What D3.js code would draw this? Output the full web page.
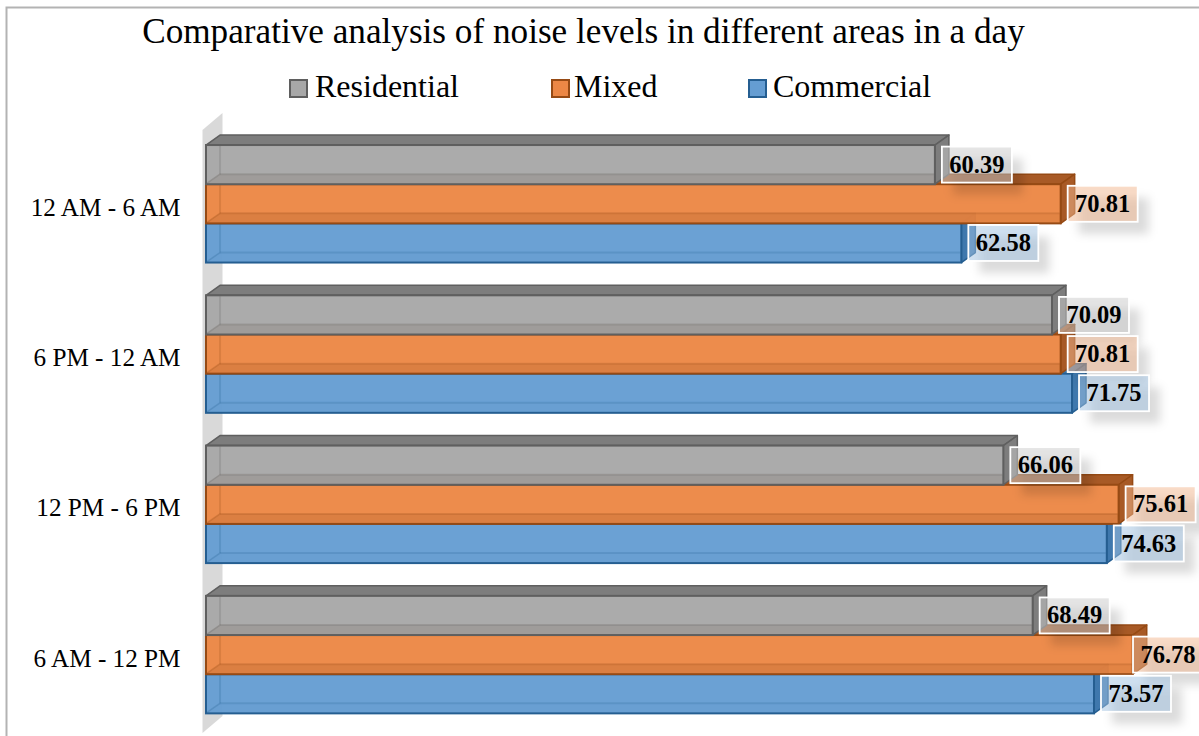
<!DOCTYPE html>
<html><head><meta charset="utf-8">
<script src="https://cdn.jsdelivr.net/npm/d3@7/dist/d3.min.js"></script>
<style>html,body{margin:0;padding:0;background:#fff;overflow:hidden}svg{display:block}text{font-family:"Liberation Serif",serif;fill:#000}</style>
</head><body><div id="c"></div>
<script>
const categories = ["12 AM - 6 AM","6 PM - 12 AM","12 PM - 6 PM","6 AM - 12 PM"];
const seriesNames = ["Residential","Mixed","Commercial"];
const residential = [60.39,70.09,66.06,68.49];
const mixed = [70.81,70.81,75.61,76.78];
const commercial = [62.58,71.75,74.63,73.57];
const seriesValues = [residential,mixed,commercial];
const fills = ["#a8a8a8","#ec8745","#659dd2"];
const darks = ["#5f5f5f","#964a14","#255e91"];
const sides = ["#7d7d7d","#a85a26","#3f78ad"];
const title = "Comparative analysis of noise levels in different areas in a day";

const W=1199,H=736, dx=14, dy=-10;
const svg=d3.select("#c").append("svg").attr("width",W).attr("height",H);
const defs=svg.append("defs");
const f=defs.append("filter").attr("id","sh").attr("x","-30%").attr("y","-40%").attr("width","170%").attr("height","200%");
f.append("feGaussianBlur").attr("stdDeviation",5);

svg.append("path").attr("d",`M6.5,${H}V7.5H${W}`).attr("fill","none").attr("stroke","#b3b3b3").attr("stroke-width",2);

const x=d3.scaleLinear().domain([0,80]).range([206,1171.6]);
const y0=d3.scaleBand().domain(categories).range([130,728.4]).paddingInner(0.218).paddingOuter(0.1);
const y1=d3.scaleBand().domain(seriesNames).range([0,y0.bandwidth()]);

// back wall
const wallPts=[[x(0)-3.5,130],[x(0)+16.5,113],[x(0)+16.5,716],[x(0)-3.5,733]];
svg.append("polygon").attr("points",wallPts.join(" ")).attr("fill","#d9d9d9");

const line=pts=>pts.map(p=>p.join(",")).join(" ");
const marks=svg.append("g");
categories.forEach((c,ci)=>{
  const g=marks.append("g");
  [2,1,0].forEach(si=>{
    const name=seriesNames[si], v=seriesValues[si][ci];
    const L=x(0), R=x(v), T=y0(c)+y1(name), B=T+y1.bandwidth();
    const s=g.append("g");
    s.append("polygon").attr("points",line([[L,T],[L+dx,T+dy],[R+dx,T+dy],[R,T]]))
      .attr("fill",sides[si]).attr("stroke",darks[si]).attr("stroke-width",1.5).attr("stroke-linejoin","round");
    s.append("polygon").attr("points",line([[R,T],[R+dx,T+dy],[R+dx,B+dy],[R,B]]))
      .attr("fill",sides[si]).attr("stroke",darks[si]).attr("stroke-width",1.5).attr("stroke-linejoin","round");
    s.append("rect").attr("x",L).attr("y",T).attr("width",R-L).attr("height",B-T)
      .attr("fill",fills[si]).attr("fill-opacity",0.96).attr("stroke",darks[si]).attr("stroke-width",2);
    // floor and inner back edges seen through the front face
    s.append("polygon").attr("points",line([[L+1,B-1],[L+dx,B+dy],[R+dx-14,B+dy],[R-1,B-1]]))
      .attr("fill",darks[si]).attr("fill-opacity",si==2?0.02:0.12);
    s.append("line").attr("x1",L+dx).attr("x2",L+dx).attr("y1",T+1).attr("y2",B+dy)
      .attr("stroke",darks[si]).attr("stroke-opacity",0.2).attr("stroke-width",2);
    s.append("line").attr("x1",L+dx).attr("x2",R-1).attr("y1",B+dy).attr("y2",B+dy)
      .attr("stroke",darks[si]).attr("stroke-opacity",0.2).attr("stroke-width",2);
    s.append("line").attr("x1",L+1).attr("y1",B-1).attr("x2",L+dx).attr("y2",B+dy)
      .attr("stroke",darks[si]).attr("stroke-opacity",0.25).attr("stroke-width",1.5);
  });
});

// data labels
const labels=svg.append("g");
const lw=70, lh=36;
categories.forEach((c,ci)=>{
  seriesNames.forEach((name,si)=>{
    const v=seriesValues[si][ci];
    const lx=Math.min(x(v)+7,W-66), ly=y0(c)+y1(name)+y1.bandwidth()/2-lh/2;
    labels.append("rect").attr("x",lx+11).attr("y",ly+12).attr("width",lw).attr("height",lh)
      .attr("fill","#000").attr("fill-opacity",0.14).attr("filter","url(#sh)");
    labels.append("rect").attr("x",lx).attr("y",ly).attr("width",lw).attr("height",lh)
      .attr("fill","#fff").attr("fill-opacity",0.3);
    labels.append("rect").attr("x",lx).attr("y",ly).attr("width",lw).attr("height",lh)
      .attr("fill",fills[si]).attr("fill-opacity",0.3).attr("stroke","#fff").attr("stroke-width",1.8);
    labels.append("text").attr("x",lx+lw/2).attr("y",ly+lh/2+8).attr("text-anchor","middle")
      .attr("font-size",24.5).attr("font-weight",700).text(v.toFixed(2));
  });
});

// category axis
const ax=svg.append("g").attr("transform","translate(180.5,4)")
  .call(d3.axisLeft(y0).tickSize(0).tickPadding(0));
ax.select(".domain").remove();
ax.selectAll("text").attr("font-size",25.2).attr("font-family","Liberation Serif").attr("fill","#000");

// title
svg.append("text").attr("x",583.5).attr("y",43).attr("text-anchor","middle").attr("font-size",35.2).text(title);

// legend
const legendX=d3.scaleOrdinal().domain(seriesNames).range([289,551,748]);
const legendTextX=d3.scaleOrdinal().domain(seriesNames).range([315,574,773]);
seriesNames.forEach((n,i)=>{
  svg.append("rect").attr("x",legendX(n)+1).attr("y",80).attr("width",17).attr("height",17)
    .attr("fill",fills[i]).attr("stroke",darks[i]).attr("stroke-width",2);
  svg.append("text").attr("x",legendTextX(n)).attr("y",97).attr("font-size",32).text(n);
});
</script></body></html>
